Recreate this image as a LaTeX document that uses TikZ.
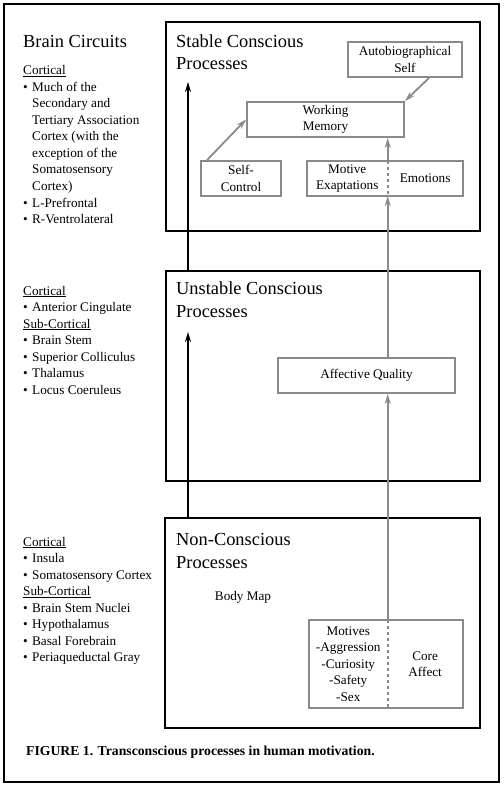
\documentclass[tikz,border=0pt]{standalone}
\usepackage{fontspec}
\setmainfont{Liberation Serif}
\usepackage{tikz}
\usetikzlibrary{arrows.meta, positioning}

\definecolor{linegray}{RGB}{138,138,138}
\newcommand{\bul}{\makebox[9pt][l]{\textbullet}}
\newcommand{\ind}{\hspace*{9pt}}

\begin{document}
\begin{tikzpicture}[x=1pt, y=-1pt,
            every node/.style={inner sep=0pt, font=\fontsize{13.2}{16.5}\selectfont}, % plain text everywhere
            procbox/.style={draw=black, line width=2.3pt, anchor=north west}, % big process frames
            gbox/.style={draw=linegray, line width=1.9pt, minimum height=35pt, align=center}, % gray boxes
            half/.style={minimum height=35pt, align=center}, % one half of a split box
            title/.style={anchor=base west, align=left, font=\fontsize{18.4}{22.5}\selectfont},
            listtext/.style={anchor=base west, align=left},
            garrow/.style={draw=linegray, line width=1.8pt, -{Stealth[length=10pt, width=6pt]}},
            barrow/.style={draw=black, line width=1.8pt, -{Stealth[length=10pt, width=6pt]}}
            ]

        \useasboundingbox (0,0) rectangle (503,786);
        \draw[line width=2.6pt] (4,4) rectangle (499,782);

        % the three levels of processing
        \node[procbox, minimum width=314pt, minimum height=209pt] (stable) at (165,21) {};
        \node[procbox, minimum width=314pt, minimum height=210pt] (unstable) at (165,270) {};
        \node[procbox, minimum width=315pt, minimum height=210pt] (noncon) at (164,517) {};

        % multi-line nodes sit on the baseline of their last line
        \node[title] (stabletitle) at (176,70) {Stable Conscious\\Processes};
        \node[title] (unstabletitle) at (176,317) {Unstable Conscious\\Processes};
        \node[title] (nontitle) at (176,568) {Non-Conscious\\Processes};

        % brain circuits column
        \node[title] (circuits) at (23,48) {Brain Circuits};
        \node[listtext] (toplist) at (23,223.5) {\underline{Cortical}\\
            \bul Much of the\\ \ind Secondary and\\ \ind Tertiary Association\\
            \ind Cortex (with the\\ \ind exception of the\\ \ind Somatosensory\\
            \ind Cortex)\\ \bul L-Prefrontal\\ \bul R-Ventrolateral};
        \node[listtext] (midlist) at (23,394) {\underline{Cortical}\\
            \bul Anterior Cingulate\\ \underline{Sub-Cortical}\\ \bul Brain Stem\\
            \bul Superior Colliculus\\ \bul Thalamus\\ \bul Locus Coeruleus};
        \node[listtext] (botlist) at (23,661.5) {\underline{Cortical}\\
            \bul Insula\\ \bul Somatosensory Cortex\\ \underline{Sub-Cortical}\\
            \bul Brain Stem Nuclei\\ \bul Hypothalamus\\ \bul Basal Forebrain\\
            \bul Periaqueductal Gray};

        % stable conscious boxes
        \node[gbox, minimum width=114pt] (autobio) at (405,59.5) {Autobiographical\\Self};
        \node[gbox, minimum width=157pt] (wm) at (325.5,119.5) {Working\\Memory};
        \node[gbox, minimum width=80pt] (selfctl) at (241,178.5) {Self-\\Control};
        \node[half, minimum width=80.5pt] (motexap) at (347.25,178.5) {Motive\\Exaptations};
        \node[half, minimum width=74.5pt, right=0pt of motexap] (emotions) {Emotions};
        \draw[linegray, line width=1.9pt] (motexap.north west) rectangle (emotions.south east);
        \draw[linegray, line width=1.9pt, dashed] (motexap.north east) -- (motexap.south east);

        % unstable conscious box
        \node[gbox, minimum width=177pt] (affect) at (366.5,375.5) {Affective Quality};

        % non-conscious boxes
        \node[anchor=base] (bodymap) at (243,600) {Body Map};
        \node[half, minimum width=78.5pt, minimum height=88pt] (motives) at (348.25,664)
            {Motives\\-Aggression\\-Curiosity\\-Safety\\-Sex};
        \node[half, minimum width=74.5pt, minimum height=88pt, right=0pt of motives] (core) {Core\\Affect};
        \draw[linegray, line width=1.9pt] (motives.north west) rectangle (core.south east);
        \draw[linegray, line width=1.9pt, dashed] (motives.north east) -- (motives.south east);

        % arrows
        \coordinate (tipunstable) at (188,332);
        \coordinate (tipstable) at (188,82);
        \draw[barrow] (noncon.north -| tipunstable) -- (tipunstable);
        \draw[barrow] (unstable.north -| tipstable) -- (tipstable);

        \draw[garrow] (motives.north east) -- (affect.south -| motives.north east);
        \draw[garrow] (affect.north -| motives.north east) -- (motexap.south east);
        \draw[garrow] (motexap.north east) -- (wm.south -| motexap.north east);
        \draw[garrow] ([xshift=24pt]autobio.south) -- (wm.north east);
        \draw[garrow] ([xshift=7pt]selfctl.north west) -- (wm.west);

        \node[anchor=base west, font=\bfseries\fontsize{13.7}{16}\selectfont] (caption) at (26,755)
            {FIGURE 1. Transconscious processes in human motivation.};

\end{tikzpicture}
\end{document}
